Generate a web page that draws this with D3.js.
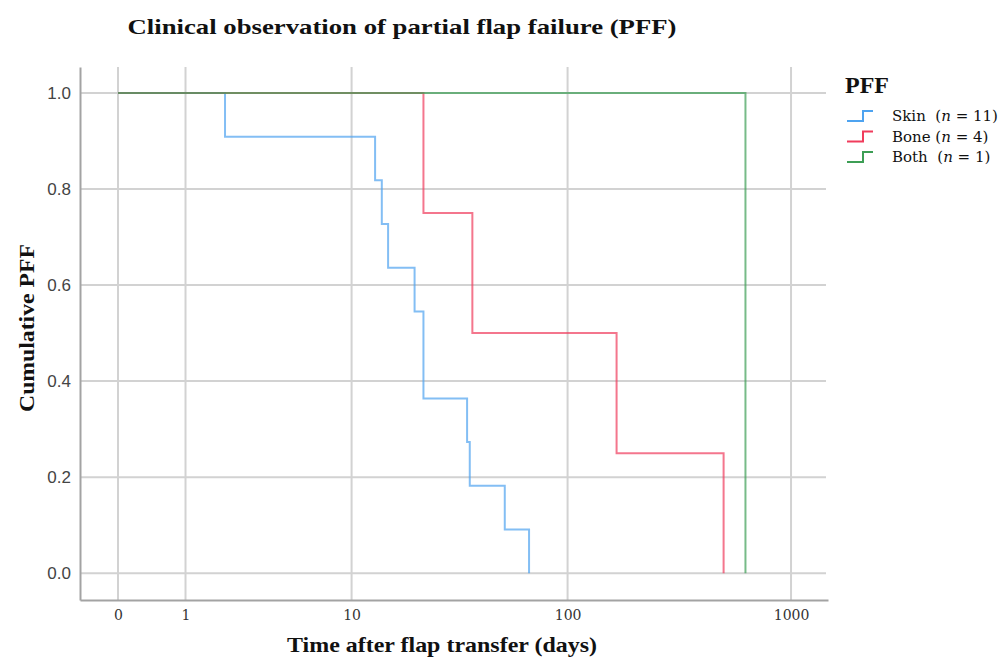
<!DOCTYPE html>
<html>
<head>
<meta charset="utf-8">
<script src="https://cdn.jsdelivr.net/npm/d3@7"></script>
<style>
  body { margin: 0; background: #fff; }
  svg { display: block; }
</style>
</head>
<body>
<div id="chart"></div>
<script>
'use strict';

// Kaplan-Meier style step data.
var skinTimes = [0, 2, 13, 14, 15, 20, 22, 35, 36, 52, 67];
var skinValues = [1, 0.909, 0.818, 0.727, 0.636, 0.545, 0.364, 0.273, 0.182, 0.091, 0];
var boneTimes = [0, 22, 37, 166, 500];
var boneValues = [1, 0.75, 0.5, 0.25, 0];
var bothTimes = [0, 626];
var bothValues = [1, 0];

var xTicks = [0, 1, 10, 100, 1000];
var yTicks = [0, 0.2, 0.4, 0.6, 0.8, 1.0];

var groups = [
	{name: 'Skin', n: 11, times: skinTimes, values: skinValues, color: '#4ea3f0'},
	{name: 'Bone', n: 4, times: boneTimes, values: boneValues, color: '#f03c5c'},
	{name: 'Both', n: 1, times: bothTimes, values: bothValues, color: '#3d9e55'}
];

var serif = "'Palatino Linotype', 'Book Antiqua', Palatino, 'Liberation Serif', serif";

var svgWidth = 1006;
var svgHeight = 661;
var plot = {left: 80, right: 828, top: 67, bottom: 600};

var svg = d3.select('#chart').append('svg')
	.attr('width', svgWidth)
	.attr('height', svgHeight);

// x axis is log(1 + t), which is what symlog with constant 1 does.
var x = d3.scaleSymlog().constant(1)
	.domain([-0.477, 1462])
	.range([plot.left, plot.right]);

var y = d3.scaleLinear()
	.domain([-0.0557, 1.054])
	.range([plot.bottom, plot.top]);

// Grid
svg.append('g')
	.attr('class', 'grid-x')
	.selectAll('line')
	.data(xTicks)
	.join('line')
	.attr('x1', d => x(d)).attr('x2', d => x(d))
	.attr('y1', plot.top).attr('y2', plot.bottom)
	.attr('stroke', '#d2d2d2')
	.attr('stroke-width', 2);

svg.append('g')
	.attr('class', 'grid-y')
	.selectAll('line')
	.data(yTicks)
	.join('line')
	.attr('x1', plot.left).attr('x2', plot.right - 2)
	.attr('y1', d => y(d)).attr('y2', d => y(d))
	.attr('stroke', '#d2d2d2')
	.attr('stroke-width', 2);

// Axes
var xAxis = svg.append('g')
	.attr('class', 'x axis')
	.attr('transform', `translate(0, ${plot.bottom})`)
	.call(d3.axisBottom(x).tickValues(xTicks).tickFormat(d3.format('d')).tickSize(0).tickPadding(10));
xAxis.select('.domain').attr('stroke', '#a3a3a3').attr('stroke-width', 2);
xAxis.selectAll('text')
	.attr('font-family', "'DejaVu Serif', serif")
	.attr('font-size', 14)
	.attr('fill', '#333');

var yAxis = svg.append('g')
	.attr('class', 'y axis')
	.attr('transform', `translate(${plot.left}, 0)`)
	.call(d3.axisLeft(y).tickValues(yTicks).tickFormat(d3.format('.1f')).tickSize(0).tickPadding(9));
yAxis.select('.domain').attr('stroke', '#a3a3a3').attr('stroke-width', 2);
yAxis.selectAll('text')
	.attr('font-family', "'Liberation Sans', Arial, sans-serif")
	.attr('font-size', 17)
	.attr('fill', '#444');

// Step curves
var line = d3.line()
	.x(d => x(d[0]))
	.y(d => y(d[1]))
	.curve(d3.curveStepAfter);

svg.append('g')
	.attr('class', 'curves')
	.selectAll('path')
	.data(groups)
	.join('path')
	.attr('d', g => line(d3.zip(g.times, g.values)))
	.attr('fill', 'none')
	.attr('stroke', g => g.color)
	.attr('stroke-opacity', 0.7)
	.attr('stroke-width', 2);

// Titles
svg.append('text')
	.attr('x', 402).attr('y', 34)
	.attr('text-anchor', 'middle')
	.attr('font-family', serif)
	.attr('font-weight', 'bold')
	.attr('font-size', 22)
	.attr('textLength', 549)
	.attr('lengthAdjust', 'spacingAndGlyphs')
	.attr('fill', '#111')
	.text('Clinical observation of partial flap failure (PFF)');

svg.append('text')
	.attr('x', 442).attr('y', 652)
	.attr('text-anchor', 'middle')
	.attr('font-family', serif)
	.attr('font-weight', 'bold')
	.attr('font-size', 21)
	.attr('textLength', 310)
	.attr('lengthAdjust', 'spacingAndGlyphs')
	.attr('fill', '#111')
	.text('Time after flap transfer (days)');

svg.append('text')
	.attr('transform', 'translate(34, 328) rotate(-90)')
	.attr('text-anchor', 'middle')
	.attr('font-family', serif)
	.attr('font-weight', 'bold')
	.attr('font-size', 21)
	.attr('textLength', 168)
	.attr('lengthAdjust', 'spacingAndGlyphs')
	.attr('fill', '#111')
	.text('Cumulative PFF');

// Legend
var legend = svg.append('g')
	.attr('class', 'legend')
	.attr('transform', 'translate(845, 0)');

legend.append('text')
	.attr('x', 0).attr('y', 93)
	.attr('font-family', serif)
	.attr('font-weight', 'bold')
	.attr('font-size', 24)
	.attr('fill', '#111')
	.text('PFF');

var rows = legend.selectAll('g.row')
	.data(groups)
	.join('g')
	.attr('class', 'row')
	.attr('transform', (d, i) => `translate(0, ${116 + i * 20.5})`);

rows.append('path')
	.attr('d', 'M2,5H18V-5H28')
	.attr('fill', 'none')
	.attr('stroke', d => d.color)
	.attr('stroke-width', 2);

var labels = rows.append('text')
	.attr('x', 47).attr('y', 5)
	.attr('font-family', "'DejaVu Serif', serif")
	.attr('font-size', 15)
	.attr('fill', '#111')
	.attr('xml:space', 'preserve');
labels.append('tspan').text(d => d.name + (d.name === 'Bone' ? ' (' : '  ('));
labels.append('tspan').attr('font-style', 'italic').text('n');
labels.append('tspan').text(d => ` = ${d.n})`);
</script>
</body>
</html>
